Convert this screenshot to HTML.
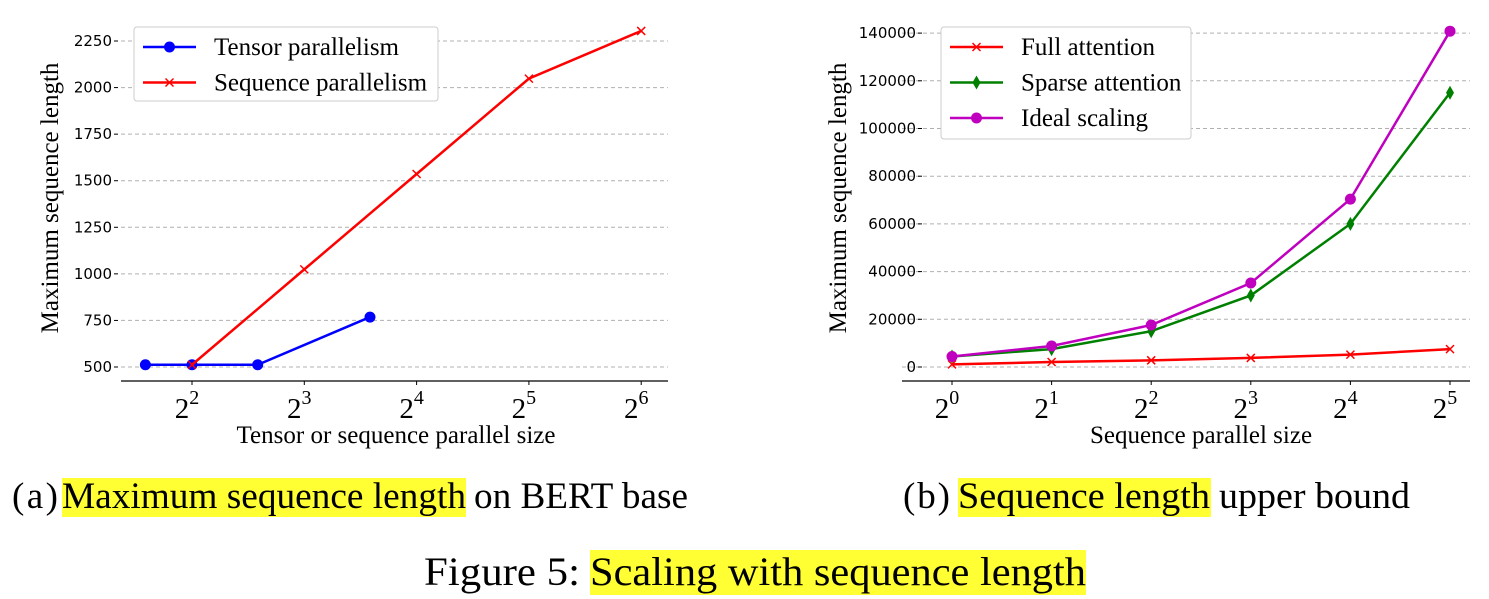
<!DOCTYPE html>
<html><head><meta charset="utf-8"><style>
body{margin:0;background:#fff;width:1489px;height:599px;overflow:hidden}
svg{display:block}
.tk{font-family:"DejaVu Sans",sans-serif;font-size:15px;fill:#000}
.lab{font-family:"Liberation Serif",serif;font-size:25px;fill:#000}
.cap{font-family:"Liberation Serif",serif;font-size:37px;fill:#000}
</style></head><body>
<svg id="s" width="1489" height="599">
<rect x="62" y="478" width="404" height="39" fill="#ffff33"/>
<text class="cap" x="12" y="508"><tspan x="12" textLength="46">(a)</tspan><tspan x="62" textLength="404" lengthAdjust="spacingAndGlyphs">Maximum sequence length</tspan><tspan x="474" textLength="214" lengthAdjust="spacingAndGlyphs">on BERT base</tspan></text>
<rect x="958" y="478" width="253" height="39" fill="#ffff33"/>
<text class="cap" x="903" y="508"><tspan x="903" textLength="47">(b)</tspan><tspan x="958" textLength="252" lengthAdjust="spacingAndGlyphs">Sequence length</tspan><tspan x="1219" textLength="191" lengthAdjust="spacingAndGlyphs">upper bound</tspan></text>
<rect x="590" y="550" width="496" height="45" fill="#ffff33"/>
<text class="cap" x="424" y="585" style="font-size:40px"><tspan x="424" textLength="156" lengthAdjust="spacingAndGlyphs">Figure 5:</tspan><tspan x="590" textLength="496" lengthAdjust="spacingAndGlyphs">Scaling with sequence length</tspan></text>
</svg>
<script>
// Chart A data
const aXTicks=[2,3,4,5,6];
const aYTicks=[500,750,1000,1250,1500,1750,2000,2250];
const tensorX=[3,4,6,12];
const tensorY=[512,512,512,768];
const seqX=[4,8,16,32,64];
const seqY=[512,1024,1536,2048,2304];
// Chart B data
const bXTicks=[0,1,2,3,4,5];
const bYTicks=[0,20000,40000,60000,80000,100000,120000,140000];
const bX=[1,2,4,8,16,32];
const fullY=[1100,2100,2800,3800,5200,7500];
const sparseY=[4400,7500,15000,30000,60000,115000];
const idealY=[4400,8800,17600,35200,70400,140800];

const NS="http://www.w3.org/2000/svg",svg=document.getElementById('s');
function el(t,a,p){const e=document.createElementNS(NS,t);for(const k in a)e.setAttribute(k,a[k]);(p||svg).appendChild(e);return e;}
const ax={x:e=>192+(Math.log2(e)-2)*112.3,y:v=>367-(v-500)/250*46.57};
const bx={x:e=>952+(Math.log2(e))*99.6,y:v=>367-v/20000*47.7};

function axes(c,xl,xr,axisY,yTicks,xTicks,xTickPos,tickLeft,name){
  const g=el('g',{});
  
  
  yTicks.forEach(v=>{
    const y=c.y(v);
    const gl=el('line',{x1:xl,x2:xr,y1:y,y2:y,stroke:'#b0b0b0','stroke-dasharray':'4,3','stroke-width':1},g);
    
    
    el('line',{x1:tickLeft-4,x2:tickLeft,y1:y,y2:y,stroke:'#000'},g);
    const t=el('text',{x:tickLeft-6,y:y+5,'text-anchor':'end',class:'tk'},g);t.textContent=v;
    
    
  });
  el('line',{x1:xl,x2:xr,y1:axisY,y2:axisY,stroke:'#000','stroke-width':1.3},g);
  xTicks.forEach(p=>{
    const x=xTickPos(p);
    el('line',{x1:x,x2:x,y1:axisY,y2:axisY+4,stroke:'#000'},g);
    const t=el('text',{x:x-5,y:axisY+37,'text-anchor':'middle',class:'lab',style:'font-size:29px'},g);
    t.textContent='2';
    const s=el('tspan',{dy:-14,style:'font-size:20px'},t);s.textContent=p;
    
    
  });
}
axes(ax,121,668,381,aYTicks,aXTicks,p=>ax.x(Math.pow(2,p)),118,'chart-a');
axes(bx,902,1470,381,bYTicks,bXTicks,p=>bx.x(Math.pow(2,p)),922,'chart-b');

function series(c,xs,ys,color,marker,name){
  const g=el('g',{});
  
  
  el('polyline',{points:xs.map((x,i)=>c.x(x)+','+c.y(ys[i])).join(' '),fill:'none',stroke:color,'stroke-width':2.5},g);
  xs.forEach((x,i)=>mark(g,c.x(x),c.y(ys[i]),color,marker));
}
function mark(g,x,y,color,m){
  if(m==='o')el('circle',{cx:x,cy:y,r:5.5,fill:color},g);
  else if(m==='x')el('path',{d:`M${x-4},${y-4}L${x+4},${y+4}M${x-4},${y+4}L${x+4},${y-4}`,stroke:color,'stroke-width':1.5},g);
  else el('path',{d:`M${x},${y-7}L${x+4},${y}L${x},${y+7}L${x-4},${y}Z`,fill:color},g);
}
series(ax,tensorX,tensorY,'#0000ff','o','tensor-parallelism-line');
series(ax,seqX,seqY,'#ff0000','x','sequence-parallelism-line');
series(bx,bX,fullY,'#ff0000','x','full-attention-line');
series(bx,bX,sparseY,'#008000','d','sparse-attention-line');
series(bx,bX,idealY,'#bf00bf','o','ideal-scaling-line');

function legend(x,y,w,h,items,name){
  const g=el('g',{});
  
  
  el('rect',{x:x,y:y,width:w,height:h,rx:3,fill:'#fff',stroke:'#ccc'},g);
  items.forEach((it,i)=>{
    const yy=y+20+i*35.5;
    el('line',{x1:x+9,x2:x+62,y1:yy,y2:yy,stroke:it[1],'stroke-width':2.5},g);
    mark(g,x+35.5,yy,it[1],it[2]);
    const t=el('text',{x:x+80,y:yy+8,class:'lab'},g);t.textContent=it[0];
    
    
  });
}
legend(134,27,304,74,[['Tensor parallelism','#0000ff','o'],['Sequence parallelism','#ff0000','x']],'legend-a');
legend(941,27,250,112,[['Full attention','#ff0000','x'],['Sparse attention','#008000','d'],['Ideal scaling','#bf00bf','o']],'legend-b');

function label(x,y,txt,rot,name){
  const t=el('text',{x:x,y:y,class:'lab','text-anchor':'middle'});
  if(rot)t.setAttribute('transform',`rotate(-90 ${x} ${y})`);
  t.textContent=txt;
  
  
}
label(396,443,'Tensor or sequence parallel size',false,'chart-a-x-axis-title');
label(58,198,'Maximum sequence length',true,'chart-a-y-axis-title');
label(1201,443,'Sequence parallel size',false,'chart-b-x-axis-title');
label(846,198,'Maximum sequence length',true,'chart-b-y-axis-title');
</script>
</body></html>
